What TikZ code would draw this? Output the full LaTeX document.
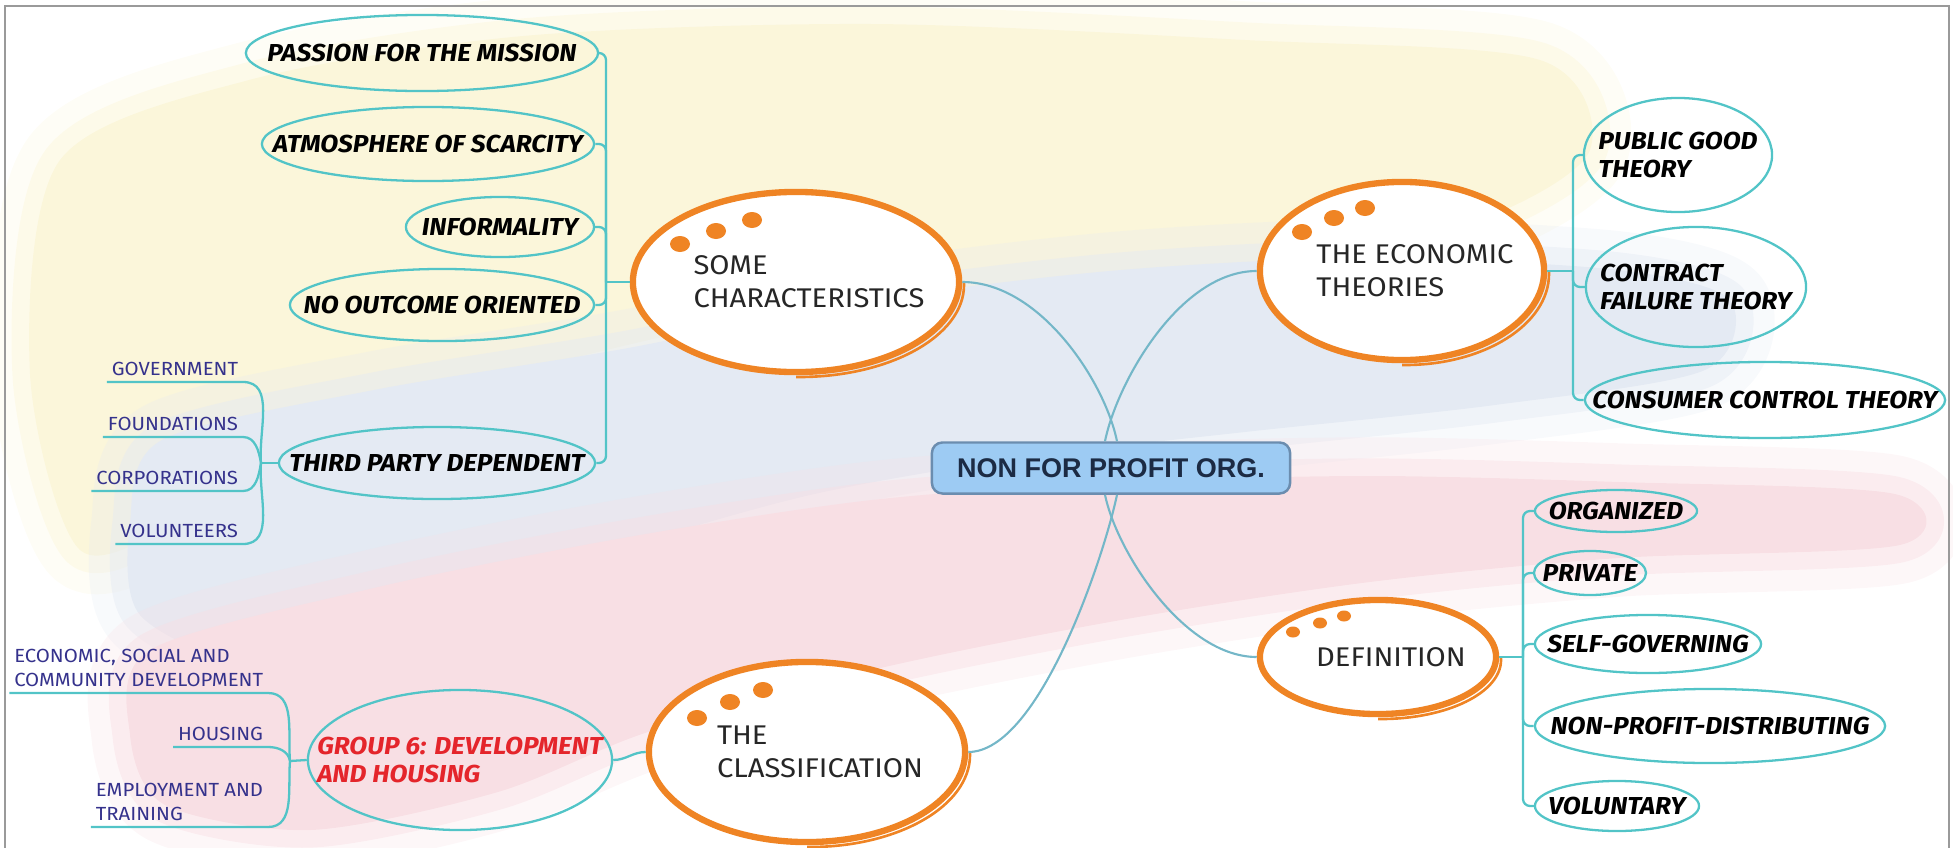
\documentclass[tikz,border=0pt]{standalone}
\usepackage{fontspec}
\setmainfont{Fira Sans}
\newfontfamily\leaffont[FakeStretch=1.07]{Fira Sans}
\newfontfamily\topicfont[FakeStretch=1.08]{Fira Sans}
\newfontfamily\hubfont{Liberation Sans}
\usetikzlibrary{shapes.geometric,calc}

\definecolor{leafline}{HTML}{52C4C7}
\definecolor{linkline}{HTML}{74B7C8}
\definecolor{topicorange}{HTML}{EF8424}
\definecolor{hubfill}{HTML}{9DCBF3}
\definecolor{hubedge}{HTML}{6B8DAF}
\definecolor{hubtext}{HTML}{1C2B44}
\definecolor{subtext}{HTML}{35328C}
\definecolor{groupred}{HTML}{E4252B}
\definecolor{washyellow}{HTML}{FBF6DA}
\definecolor{washblue}{HTML}{E4EAF3}
\definecolor{washpink}{HTML}{F8DFE4}
\definecolor{framegray}{HTML}{9A9A9A}

\tikzset{
  hub/.style={draw=hubedge, fill=hubfill, rounded corners=3pt, line width=0.7pt,
    minimum width=3.58cm, minimum height=0.51cm, inner sep=0pt,
    font=\hubfont\bfseries\fontsize{0.27cm}{0.3cm}\selectfont, text=hubtext},
  topic/.style={ellipse, draw=topicorange, fill=white, line width=1.8pt, inner sep=0pt},
  topictext/.style={align=left, text=black!85, font=\topicfont\fontsize{0.27cm}{0.33cm}\selectfont},
  leaf/.style={ellipse, draw=leafline, line width=0.65pt, inner sep=0pt},
  leaftext/.style={align=left, text=black, font=\leaffont\fontsize{0.245cm}{0.28cm}\selectfont\bfseries\itshape},
  subtopic/.style={align=left, text=subtext, font=\leaffont\fontsize{0.19cm}{0.235cm}\selectfont,
    inner xsep=1.2pt, inner ysep=1.6pt, anchor=south east},
  branch/.style={draw=leafline, line width=0.65pt},
  link/.style={draw=linkline, line width=0.6pt},
  dot/.style={fill=topicorange},
}

% soft brush stroke: two faint halos under an opaque core
\newcommand\brushwash[2]{%
  \path[draw=#1, draw opacity=0.25, line width=22pt, line join=round] plot[smooth cycle] coordinates {#2};
  \path[draw=#1, draw opacity=0.45, line width=10pt, line join=round] plot[smooth cycle] coordinates {#2};
  \path[fill=#1] plot[smooth cycle] coordinates {#2};}

% main topic: orange ellipse with a second stroke on the lower right
\newcommand\mmtopic[6]{%
  \node[topic, minimum width=#4*0.02cm, minimum height=#5*0.02cm] (#1) at (#2,#3) {};
  \begin{scope}
    \clip (#2,#3) rectangle ++(#4+14,#5+14);
    \draw[topicorange, line width=0.75pt] (#2+3,#3+3) ellipse [x radius=#4+2, y radius=#5+2];
  \end{scope}
  \node[topictext] (#1t) at (#2+13,#3) {#6};}

% leaf: thin teal ellipse with bold italic caption
\newcommand\mmleaf[6]{%
  \node[leaf, minimum width=#4*0.02cm, minimum height=#5*0.02cm] (#1) at (#2,#3) {};
  \node[leaftext] (#1t) at (#1) {#6};}

\begin{document}
\begin{tikzpicture}[x=0.01cm, y=-0.01cm]
\useasboundingbox (0,0) rectangle (1953,848);

% washed flag-coloured brush strokes behind the map
\brushwash{washyellow}{(60,160) (249,80) (523,36) (872,24) (1245,40)
  (1540,60) (1590,150) (1480,220) (1245,280) (996,295) (747,320) (523,370) (311,420)
  (187,515) (80,550) (30,374)}
\brushwash{washblue}{(162,440) (374,390) (623,349) (872,300)
  (1121,270) (1370,258) (1619,270) (1730,300) (1705,370) (1495,405) (1245,432) (1021,458)
  (810,495) (598,555) (411,615) (249,660) (140,615) (130,523)}
\brushwash{washpink}{(150,650) (374,588) (623,538) (872,500)
  (1121,482) (1370,476) (1619,482) (1895,494) (1900,545) (1619,558) (1370,582) (1121,620)
  (872,670) (648,732) (498,792) (311,830) (165,805) (130,735)}

% frame
\draw[framegray, line width=0.7pt] (5,6) rectangle (1949,852);

% central topic
\node[hub] (ctr) at (1111,468) {NON FOR PROFIT ORG.};

% main topics
\mmtopic{sc}{796}{282}{163}{90}{SOME\\CHARACTERISTICS}
\mmtopic{ec}{1402}{271}{142}{89}{THE ECONOMIC\\THEORIES}
\mmtopic{df}{1378}{657}{118}{57}{DEFINITION}
\mmtopic{cl}{807}{752}{158}{90}{THE\\CLASSIFICATION}

% the three dots of each main topic
\foreach \p in {(680,244),(716,231),(752,220),(1302,232),(1334,218),(1365,208),(697,718),(730,702),(763,690)}
  \fill[dot] \p ellipse [x radius=10, y radius=8];
\foreach \p in {(1293,632),(1320,623),(1344,616)}
  \fill[dot] \p ellipse [x radius=7, y radius=5.5];

% characteristics
\mmleaf{pas}{422}{53}{176}{38}{PASSION FOR THE MISSION}
\mmleaf{atm}{428}{144}{166}{37}{ATMOSPHERE OF SCARCITY}
\mmleaf{inf}{500}{227}{94}{30}{INFORMALITY}
\mmleaf{noo}{442}{305}{152}{36}{NO OUTCOME ORIENTED}
\mmleaf{tpd}{437}{463}{158}{36}{THIRD PARTY DEPENDENT}

% economic theories
\mmleaf{pgt}{1678}{155}{94}{57}{PUBLIC GOOD\\THEORY}
\mmleaf{cft}{1696}{287}{110}{60}{CONTRACT\\FAILURE THEORY}
\mmleaf{cct}{1765}{400}{180}{38}{CONSUMER CONTROL THEORY}

% definition
\mmleaf{org}{1616}{511}{81}{21}{ORGANIZED}
\mmleaf{pri}{1590}{573}{56}{22}{PRIVATE}
\mmleaf{sgv}{1648}{644}{113}{29}{SELF-GOVERNING}
\mmleaf{npd}{1710}{726}{175}{37}{NON-PROFIT-DISTRIBUTING}
\mmleaf{vol}{1617}{806}{82}{25}{VOLUNTARY}

% classification
\node[leaf, minimum width=3.04cm, minimum height=1.4cm] (grp) at (460,760) {};
\node[leaftext, text=groupred] (grpt) at (grp) {GROUP 6: DEVELOPMENT\\AND HOUSING};

% third party sources
\node[subtopic] (gov) at (243,382) {GOVERNMENT};
\node[subtopic] (fou) at (243,437) {FOUNDATIONS};
\node[subtopic] (cor) at (243,491) {CORPORATIONS};
\node[subtopic] (vlt) at (243,544) {VOLUNTEERS};

% group 6 areas
\node[subtopic] (ecs) at (268,693) {ECONOMIC, SOCIAL AND\\COMMUNITY DEVELOPMENT};
\node[subtopic] (hou) at (268,747) {HOUSING};
\node[subtopic] (emp) at (268,827) {EMPLOYMENT AND\\TRAINING};

% links from the central topic
\draw[link] (sc.east) .. controls (1040,282) and (1105,382) .. ($(ctr.north)+(6,0)$);
\draw[link] (ec.west) .. controls (1180,271) and (1117,382) .. ($(ctr.north)+(-6,0)$);
\draw[link] (cl.east) .. controls (1040,752) and (1105,553) .. ($(ctr.south)+(6,0)$);
\draw[link] (df.west) .. controls (1185,657) and (1117,553) .. ($(ctr.south)+(-6,0)$);

% branches of the main topics
\coordinate (scJ) at (606,282);
\draw[branch] (sc.west) -- (scJ);
\foreach \c in {pas,atm,inf,noo,tpd} \draw[branch, rounded corners=2pt] (scJ) |- (\c.east);

\coordinate (ecJ) at (1573,271);
\draw[branch] (ec.east) -- (ecJ);
\foreach \c in {pgt,cft,cct} \draw[branch, rounded corners=2pt] (ecJ) |- (\c.west);

\coordinate (dfJ) at (1523,657);
\draw[branch] (df.east) -- (dfJ);
\foreach \c in {org,pri,sgv,npd,vol} \draw[branch, rounded corners=2pt] (dfJ) |- (\c.west);

\draw[branch] (cl.west) to[out=180, in=0] (grp.east);

% underlined sub-branches
\coordinate (tpJ) at (261,463);
\draw[branch] (tpJ) -- (tpd.west);
\draw[branch] (gov.south west) -- (gov.south east) to[out=0, in=95] (tpJ);
\draw[branch] (fou.south west) -- (fou.south east) to[out=0, in=100] (tpJ);
\draw[branch] (cor.south west) -- (cor.south east) to[out=0, in=-100] (tpJ);
\draw[branch] (vlt.south west) -- (vlt.south east) to[out=0, in=-95] (tpJ);

\coordinate (grJ) at (290,761);
\draw[branch] (grJ) -- (grp.west);
\draw[branch] (ecs.south west) -- (ecs.south east) to[out=0, in=95] (grJ);
\draw[branch] (hou.south west) -- (hou.south east) to[out=0, in=100] (grJ);
\draw[branch] (emp.south west) -- (emp.south east) to[out=0, in=-95] (grJ);
\end{tikzpicture}
\end{document}
